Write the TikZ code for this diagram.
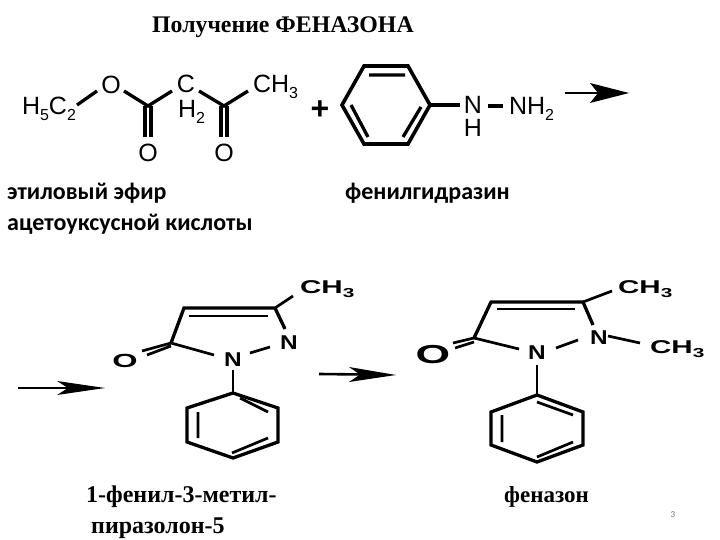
\documentclass[tikz,border=0pt]{standalone}
\usepackage{fontspec}
\setmainfont{Liberation Serif}
\newfontfamily\carlitofont{Carlito}
\newfontfamily\atomfont{Liberation Sans}
\newcommand{\lowidx}[1]{\raisebox{-0.38ex}{\fontsize{16}{16}\selectfont #1}}
\newcommand{\heavyidx}[1]{\raisebox{-0.45ex}{\fontsize{13}{13}\selectfont #1}}
\tikzset{
  bond/.style={line width=3.3pt,black,line join=miter},
  thinbond/.style={line width=2.7pt,black,line join=miter},
  atom/.style={font=\atomfont\fontsize{25}{25}\selectfont,inner sep=0pt,outer sep=0pt},
  heavy/.style={font=\atomfont\bfseries\fontsize{20}{20}\selectfont,inner sep=0pt,outer sep=0pt,xscale=1.22},
  heavygroup/.style={font=\atomfont\bfseries\fontsize{18.5}{18.5}\selectfont,inner sep=0pt,outer sep=0pt,xscale=1.6},
  serifhead/.style={font=\bfseries\fontsize{23.8}{26}\selectfont,inner sep=0pt,anchor=base west},
  seriflabel/.style={font=\bfseries\fontsize{24}{26}\selectfont,inner sep=0pt,anchor=base west},
  sanslabel/.style={font=\carlitofont\bfseries\fontsize{24}{26}\selectfont,inner sep=0pt,anchor=base west},
  arrowline/.style={line width=2.6pt,black},
  arrowfill/.style={fill=black,draw=none}
}
\begin{document}
\begin{tikzpicture}[x=1pt,y=-1pt]
\useasboundingbox (0,0) rectangle (720,540);
\fill[white] (0,0) rectangle (720,540);
% title and captions
\node[serifhead] (title) at (152,33) {Получение ФЕНАЗОНА};
\node[sanslabel] (cap1a) at (7,200) {этиловый эфир};
\node[sanslabel] (cap1b) at (7,230) {ацетоуксусной кислоты};
\node[sanslabel] (cap2) at (345,200) {фенилгидразин};
\node[seriflabel] (cap3a) at (86,502) {1-фенил-3-метил-};
\node[seriflabel] (cap3b) at (91,533) {пиразолон-5};
\node[seriflabel,font=\bfseries\fontsize{23}{26}\selectfont] (cap4) at (504,502) {феназон};
\node[font=\carlitofont\fontsize{9}{9}\selectfont,text=black!55,inner sep=0pt] (pg) at (673,515) {3};
% ethyl acetoacetate
\node[atom,anchor=base west] (et) at (22,115) {H\lowidx{5}C\lowidx{2}};
\node[atom] (o1) at (111,85) {O};
\node[atom] (o2) at (148,153) {O};
\node[atom] (o3) at (224,153) {O};
\node[atom] (c2) at (186,84) {C};
\node[atom,anchor=base west] (h2) at (178,118) {H\lowidx{2}};
\node[atom,anchor=base west] (ch3a) at (253,93) {CH\lowidx{3}};
\coordinate (k1) at (148,106);
\coordinate (k2) at (224,106);
\coordinate (e1) at (77,105);
\coordinate (e2) at (97,91);
\coordinate (e3) at (124,91);
\coordinate (e4) at (172,91);
\coordinate (e5) at (199,91);
\coordinate (e6) at (248,91);
\draw[bond] (e1) -- (e2);
\draw[bond] (e3) -- (k1) -- (e4);
\draw[bond] (e5) -- (k2) -- (e6);
\draw[bond] (145,106) -- (145,137) (151,106) -- (151,137);
\draw[bond] (221,106) -- (221,137) (227,106) -- (227,137);
% plus
\node[font=\atomfont\bfseries\fontsize{32}{32}\selectfont,inner sep=0pt] (plus) at (320,110) {+};
% phenylhydrazine
\coordinate (a1) at (342,105);
\coordinate (a2) at (364,66);
\coordinate (a3) at (408,66);
\coordinate (a4) at (430,105);
\coordinate (a5) at (408,144);
\coordinate (a6) at (364,144);
\draw[line width=3.6pt,black,line join=miter] (a1) -- (a2) -- (a3) -- (a4) -- (a5) -- (a6) -- cycle;
\draw[bond] (369,75) -- (405,75) (351,105) -- (368,137) (421,107) -- (403,137);
\node[atom] (n1) at (473,105) {N};
\node[atom] (nh) at (473,128) {H};
\node[atom,anchor=base west] (nh2) at (509,115) {NH\lowidx{2}};
\draw[bond] (a4) -- (460,105);
\draw[bond] (488,106) -- (503,106);
% arrow 1
\coordinate (ar1s) at (565,93);
\coordinate (ar1t) at (629,93);
\draw[arrowline] (ar1s) -- (600,93);
\fill[arrowfill] (ar1t) -- (590,83) -- (598,93) -- (590,103) -- cycle;
% arrow 2
\coordinate (ar2s) at (18,388);
\coordinate (ar2t) at (105,388);
\draw[arrowline] (ar2s) -- (72,388);
\fill[arrowfill] (ar2t) -- (57,381) -- (68,388) -- (57,395) -- cycle;
% arrow 3
\coordinate (ar3s) at (319,374);
\coordinate (ar3t) at (396,375);
\draw[arrowline] (ar3s) -- (365,374.5);
\fill[arrowfill] (ar3t) -- (349,367) -- (360,374.5) -- (349,382) -- cycle;
% pyrazolone
\coordinate (p5) at (171,343);
\coordinate (p4) at (184,308);
\coordinate (p3) at (275,308);
\node[heavy] (pn2) at (289,343) {N};
\node[heavy] (pn1) at (233,360) {N};
\node[heavy,font=\atomfont\bfseries\fontsize{19}{19}\selectfont,xscale=1.4] (po) at (125,361) {O};
\node[heavygroup,anchor=base west] (pch) at (300,293) {CH\heavyidx{3}};
\draw[bond] (p5) -- (p4) -- (p3) -- (285,329);
\draw[thinbond] (189,316) -- (268,316);
\draw[thinbond] (p5) -- (214,355);
\draw[thinbond] (250,353) -- (270,347);
\draw[thinbond] (p5) -- (142,351) (147,355) -- (171,346);
\draw[thinbond] (p3) -- (293,296);
\coordinate (q1) at (233,393);
\coordinate (q2) at (278,408);
\coordinate (q3) at (278,442);
\coordinate (q4) at (233,458);
\coordinate (q5) at (187,442);
\coordinate (q6) at (187,408);
\draw[bond] (q1) -- (q2) -- (q3) -- (q4) -- (q5) -- (q6) -- cycle;
\draw[thinbond] (233,370) -- (q1);
\draw[thinbond] (240,398) -- (268,412) (198,412) -- (198,438) (232,453) -- (268,438);
% phenazone
\coordinate (r5) at (474,338);
\coordinate (r4) at (491,302);
\coordinate (r3) at (583,302);
\node[heavy] (rn2) at (599,338) {N};
\node[heavy] (rn1) at (537,353) {N};
\node[heavy,font=\atomfont\bfseries\fontsize{26}{26}\selectfont,xscale=1.4] (ro) at (433,355) {O};
\node[heavygroup,anchor=base west] (rch1) at (618,293) {CH\heavyidx{3}};
\node[heavygroup,anchor=base west] (rch2) at (650,353) {CH\heavyidx{3}};
\draw[bond] (r5) -- (r4) -- (r3) -- (593,325);
\draw[thinbond] (497,309) -- (575,309);
\draw[thinbond] (r5) -- (519,349);
\draw[thinbond] (556,348) -- (578,340);
\draw[thinbond] (r5) -- (453,343) (455,348) -- (474,342);
\draw[thinbond] (r3) -- (612,291);
\draw[thinbond] (608,336) -- (640,343);
\coordinate (s1) at (537,395);
\coordinate (s2) at (583,412);
\coordinate (s3) at (583,445);
\coordinate (s4) at (537,462);
\coordinate (s5) at (491,445);
\coordinate (s6) at (491,412);
\draw[bond] (s1) -- (s2) -- (s3) -- (s4) -- (s5) -- (s6) -- cycle;
\draw[thinbond] (537,365) -- (s1);
\draw[thinbond] (537,402) -- (573,415) (502,415) -- (502,442) (537,457) -- (573,442);
\end{tikzpicture}
\end{document}
